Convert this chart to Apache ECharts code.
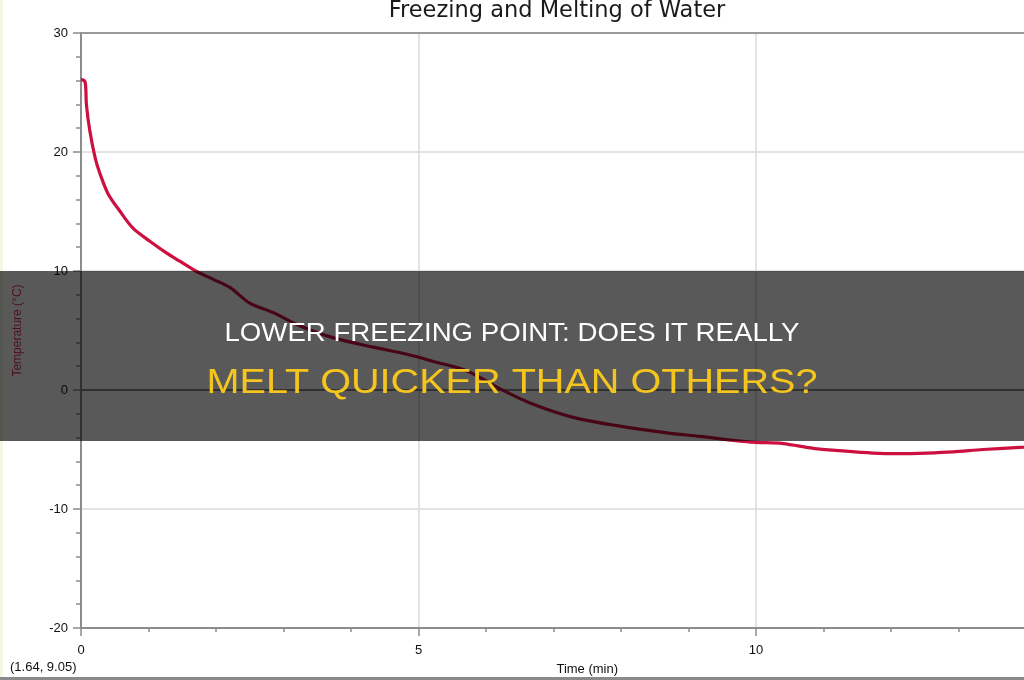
<!DOCTYPE html>
<html>
<head>
<meta charset="utf-8">
<script src="https://cdn.jsdelivr.net/npm/echarts@6/dist/echarts.min.js"></script>
<style>
html,body{margin:0;padding:0;background:#fff;}
#chart{width:1024px;height:680px;}
</style>
</head>
<body>
<div id="chart"></div>
<script>
// Data
const chartTitle = 'Freezing and Melting of Water';
const xAxisName = 'Time (min)';
const yAxisName = 'Temperature (\u00B0C)';
const cursorReadout = '(1.64, 9.05)';
const headline1 = 'LOWER FREEZING POINT: DOES IT REALLY';
const headline2 = 'MELT QUICKER THAN OTHERS?';

const timeMin = [0, 0.06, 0.08, 0.13, 0.21, 0.28, 0.4, 0.58, 0.77, 1.02, 1.27, 1.47, 1.7, 1.96, 2.21, 2.5, 2.85, 3.24, 3.73, 4.33, 4.83, 5.22, 5.72, 6.21, 6.7, 7.29, 7.94, 8.68, 9.17, 9.76, 10.0, 10.4, 10.85, 11.24, 11.73, 12.13, 12.53, 12.92, 13.36, 13.97, 14.5];
const tempC   = [26.1, 25.9, 24.0, 21.8, 19.5, 18.2, 16.5, 15.0, 13.6, 12.5, 11.5, 10.8, 10.0, 9.3, 8.6, 7.3, 6.5, 5.4, 4.4, 3.6, 3.0, 2.4, 1.6, 0.1, -1.2, -2.3, -3.0, -3.6, -3.9, -4.3, -4.4, -4.5, -4.9, -5.1, -5.3, -5.35, -5.3, -5.2, -5.0, -4.8, -4.6];

const seriesData = timeMin.map((t, i) => [t, tempC[i]]);

// fit headline text widths to the reference
const measureCtx = document.createElement('canvas').getContext('2d');
function fitScale(text, font, targetWidth) {
  measureCtx.font = font;
  const w = measureCtx.measureText(text).width;
  return w > 0 ? targetWidth / w : 1;
}
const h1Font = '26px "Liberation Sans"';
const h2Font = '35px "Liberation Sans"';
const h1Scale = fitScale(headline1, h1Font, 575);
const h2Scale = fitScale(headline2, h2Font, 611);

const axisGray = '#8c8c8c';
const chart = echarts.init(document.getElementById('chart'), null, {renderer: 'canvas'});

chart.setOption({
  backgroundColor: '#ffffff',
  animation: false,
  grid: {left: 81, top: 33, width: 1012.5, height: 595, containLabel: false, outerBoundsMode: 'none'},
  xAxis: {
    type: 'value', min: 0, max: 15, interval: 5,
    name: xAxisName, nameLocation: 'middle', nameGap: 35,
    nameTextStyle: {color: '#111', fontSize: 13, fontFamily: 'Liberation Sans'},
    axisLine: {show: true, onZero: false, lineStyle: {color: axisGray, width: 2}},
    axisTick: {show: true, length: 8, lineStyle: {color: axisGray, width: 1.5}},
    minorTick: {show: true, splitNumber: 5, length: 4, lineStyle: {color: axisGray, width: 1.5}},
    axisLabel: {color: '#111', fontSize: 13, fontFamily: 'Liberation Sans', margin: 16},
    splitLine: {show: true, lineStyle: {color: '#dadada', width: 1.5}}
  },
  yAxis: {
    type: 'value', min: -20, max: 30, interval: 10,
    name: yAxisName, nameLocation: 'middle', nameGap: 57, nameRotate: 90,
    nameTextStyle: {color: '#e0305a', fontSize: 12, fontFamily: 'Liberation Sans'},
    axisLine: {show: true, onZero: false, lineStyle: {color: axisGray, width: 2}},
    axisTick: {show: true, length: 8, lineStyle: {color: axisGray, width: 1.5}},
    minorTick: {show: true, splitNumber: 5, length: 5, lineStyle: {color: axisGray, width: 1.5}},
    axisLabel: {color: '#111', fontSize: 13, fontFamily: 'Liberation Sans', margin: 13},
    splitLine: {show: true, lineStyle: {color: '#dadada', width: 1.5}}
  },
  series: [{
    type: 'line',
    data: seriesData,
    z: 10,
    showSymbol: false,
    smooth: 0.3,
    lineStyle: {color: '#cc1040', width: 3.2},
    markLine: {
      silent: true, symbol: 'none', label: {show: false},
      data: [
        {yAxis: 0, lineStyle: {color: '#707070', width: 1.5, type: 'solid'}},
        {yAxis: 30, lineStyle: {color: '#9a9a9a', width: 2, type: 'solid'}}
      ]
    }
  }],
  graphic: [
    {type: 'rect', left: 0, top: 0, shape: {width: 3, height: 680}, style: {fill: '#f3f7e4'}, z: 1, silent: true},
    {type: 'rect', left: 0, top: 677, shape: {width: 1024, height: 3}, style: {fill: '#8a8a8a'}, z: 1, silent: true},
    {type: 'text', x: 557, y: 11, z: 50, silent: true,
      style: {text: chartTitle, fill: '#1a1a1a', font: '22.5px "DejaVu Sans"', textAlign: 'center', textVerticalAlign: 'middle'}},
    {type: 'text', x: 10, y: 667, z: 50, silent: true,
      style: {text: cursorReadout, fill: '#111', font: '13px "Liberation Sans"', textAlign: 'left', textVerticalAlign: 'middle'}},
    {type: 'rect', x: 0, y: 271, z: 100, silent: true, shape: {width: 1024, height: 170}, style: {fill: 'rgba(0,0,0,0.65)'}},
    {type: 'text', x: 512, y: 334, scaleX: h1Scale, z: 101, silent: true,
      style: {text: headline1, fill: '#ffffff', font: h1Font, textAlign: 'center', textVerticalAlign: 'middle'}},
    {type: 'text', x: 512, y: 383, scaleX: h2Scale, z: 101, silent: true,
      style: {text: headline2, fill: '#f5c51f', font: h2Font, textAlign: 'center', textVerticalAlign: 'middle'}}
  ]
});
</script>
</body>
</html>
